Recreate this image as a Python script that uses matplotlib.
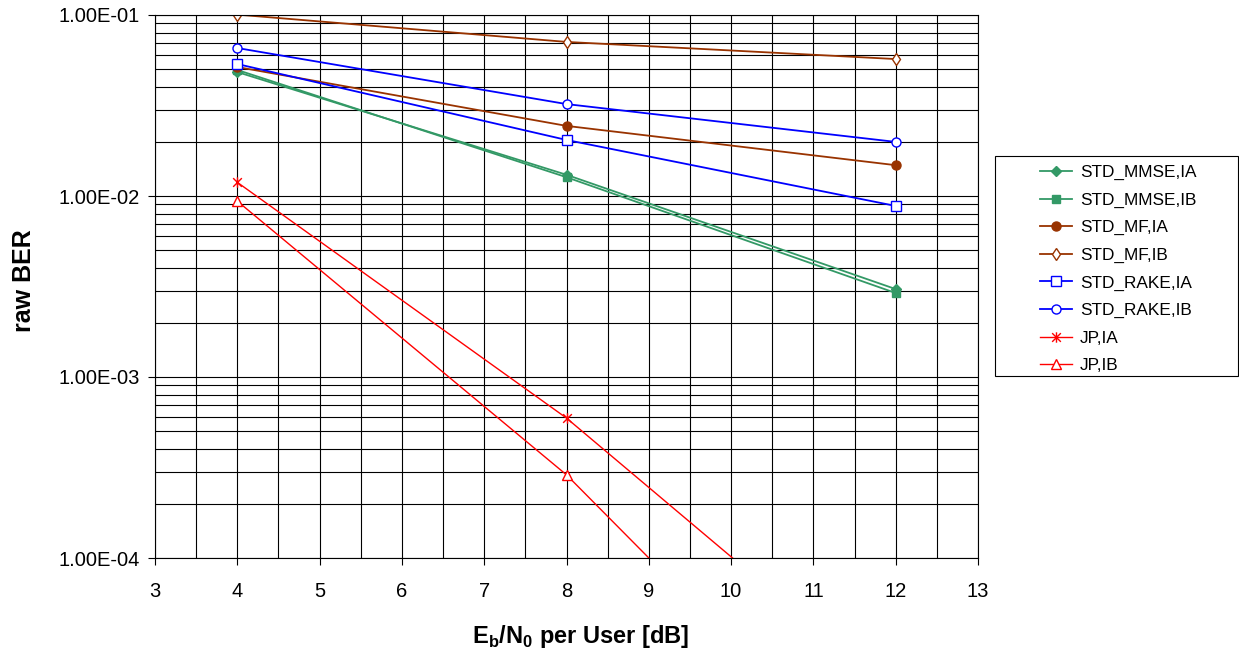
import numpy as np
import matplotlib
matplotlib.use("Agg")
import matplotlib.pyplot as plt
from matplotlib.path import Path
from matplotlib.patches import Rectangle
from matplotlib.ticker import LogLocator, FixedLocator, FuncFormatter, NullFormatter

plt.rcParams['font.family'] = ['Liberation Sans', 'DejaVu Sans']
plt.rcParams['mathtext.fontset'] = 'custom'
plt.rcParams['mathtext.rm'] = 'Liberation Sans'
plt.rcParams['mathtext.bf'] = 'Liberation Sans:bold'

x = [4, 8, 12]
series_names = ["STD_MMSE,IA", "STD_MMSE,IB", "STD_MF,IA", "STD_MF,IB",
                "STD_RAKE,IA", "STD_RAKE,IB", "JP,IA", "JP,IB"]
std_mmse_ia = [0.0484, 0.0131, 0.00306]
std_mmse_ib = [0.0497, 0.0127, 0.00291]
std_mf_ia = [0.0516, 0.0244, 0.0148]
std_mf_ib = [0.1005, 0.0710, 0.0571]
std_rake_ia = [0.0536, 0.0204, 0.00881]
std_rake_ib = [0.0657, 0.0322, 0.0199]
jp_ia = [0.0119, 5.93e-4, 1.74e-5]
jp_ib = [0.00937, 2.88e-4, 4.2e-6]

green = '#339966'
brown = '#993300'
blue = '#0000FF'
red = '#FF0000'

star = Path([(-1, -1), (1, 1), (-1, 1), (1, -1), (0, -1.2), (0, 1.2)],
            [Path.MOVETO, Path.LINETO, Path.MOVETO, Path.LINETO, Path.MOVETO, Path.LINETO])

styles = [
    dict(color=green, marker='D', mfc=green, mec=green, ms=5),
    dict(color=green, marker='s', mfc=green, mec=green, ms=6),
    dict(color=brown, marker='o', mfc=brown, mec=brown, ms=6.5),
    dict(color=brown, marker='d', mfc='white', mec=brown, ms=6, mew=1.0),
    dict(color=blue, marker='s', mfc='white', mec=blue, ms=6.5, mew=1.0),
    dict(color=blue, marker='o', mfc='white', mec=blue, ms=6.5, mew=1.0),
    dict(color=red, marker=star, mfc=red, mec=red, ms=7.5, mew=1.0),
    dict(color=red, marker='^', mfc='white', mec=red, ms=6.5, mew=1.0),
]
data = [std_mmse_ia, std_mmse_ib, std_mf_ia, std_mf_ib,
        std_rake_ia, std_rake_ib, jp_ia, jp_ib]

W, H = 1239, 659
fig = plt.figure(figsize=(W / 100, H / 100), dpi=100)
ax = fig.add_axes([155 / W, 1 - 558 / H, (978 - 155) / W, (558 - 15) / H])

for name, y, st in zip(series_names, data, styles):
    lw = 1.0 if name.startswith('JP') else 1.3
    ax.plot(x, y, label=name, lw=lw, **st)

ax.set_yscale('log')
ax.set_xlim(3, 13)
ax.set_ylim(1e-4, 1e-1)
ax.xaxis.set_major_locator(FixedLocator(np.arange(3, 14, 1)))
ax.xaxis.set_minor_locator(FixedLocator(np.arange(3.5, 13, 1)))
ax.yaxis.set_major_locator(LogLocator(base=10, numticks=10))
ax.yaxis.set_minor_locator(LogLocator(base=10, subs=np.arange(2, 10), numticks=20))
ax.yaxis.set_major_formatter(FuncFormatter(lambda v, p: f"{v:.2E}"))
ax.yaxis.set_minor_formatter(NullFormatter())
ax.grid(True, which='both', color='black', lw=0.8)
ax.set_axisbelow(True)
ax.tick_params(axis='both', which='major', labelsize=14.5, length=5, width=0.8, color='black', pad=6)
ax.tick_params(axis='x', which='major', pad=12)
ax.tick_params(axis='both', which='minor', length=0)
for s in ax.spines.values():
    s.set_color('black')
    s.set_linewidth(0.8)

fig.text(24 / W, 1 - 281 / H, 'raw BER', rotation=90, fontsize=18, fontweight='bold',
         ha='center', va='center')
fig.text(581 / W, 1 - 637 / H, r'E$_\mathbf{b}$/N$_\mathbf{0}$ per User [dB]', fontsize=17,
         fontweight='bold', ha='center', va='center')

fig.patches.append(Rectangle((995 / W, 1 - 376 / H), 243 / W, 220 / H, transform=fig.transFigure,
                             facecolor='white', edgecolor='black', lw=0.8, zorder=1))
leg = fig.legend(loc='upper left', bbox_to_anchor=(1040 / W, 1 - 165 / H), fontsize=12.4,
                 frameon=False, borderpad=0, labelspacing=0.72, handlelength=1.86,
                 handletextpad=0.45, borderaxespad=0)
leg.set_zorder(5)

fig.savefig('out.png', dpi=100, facecolor='white')
